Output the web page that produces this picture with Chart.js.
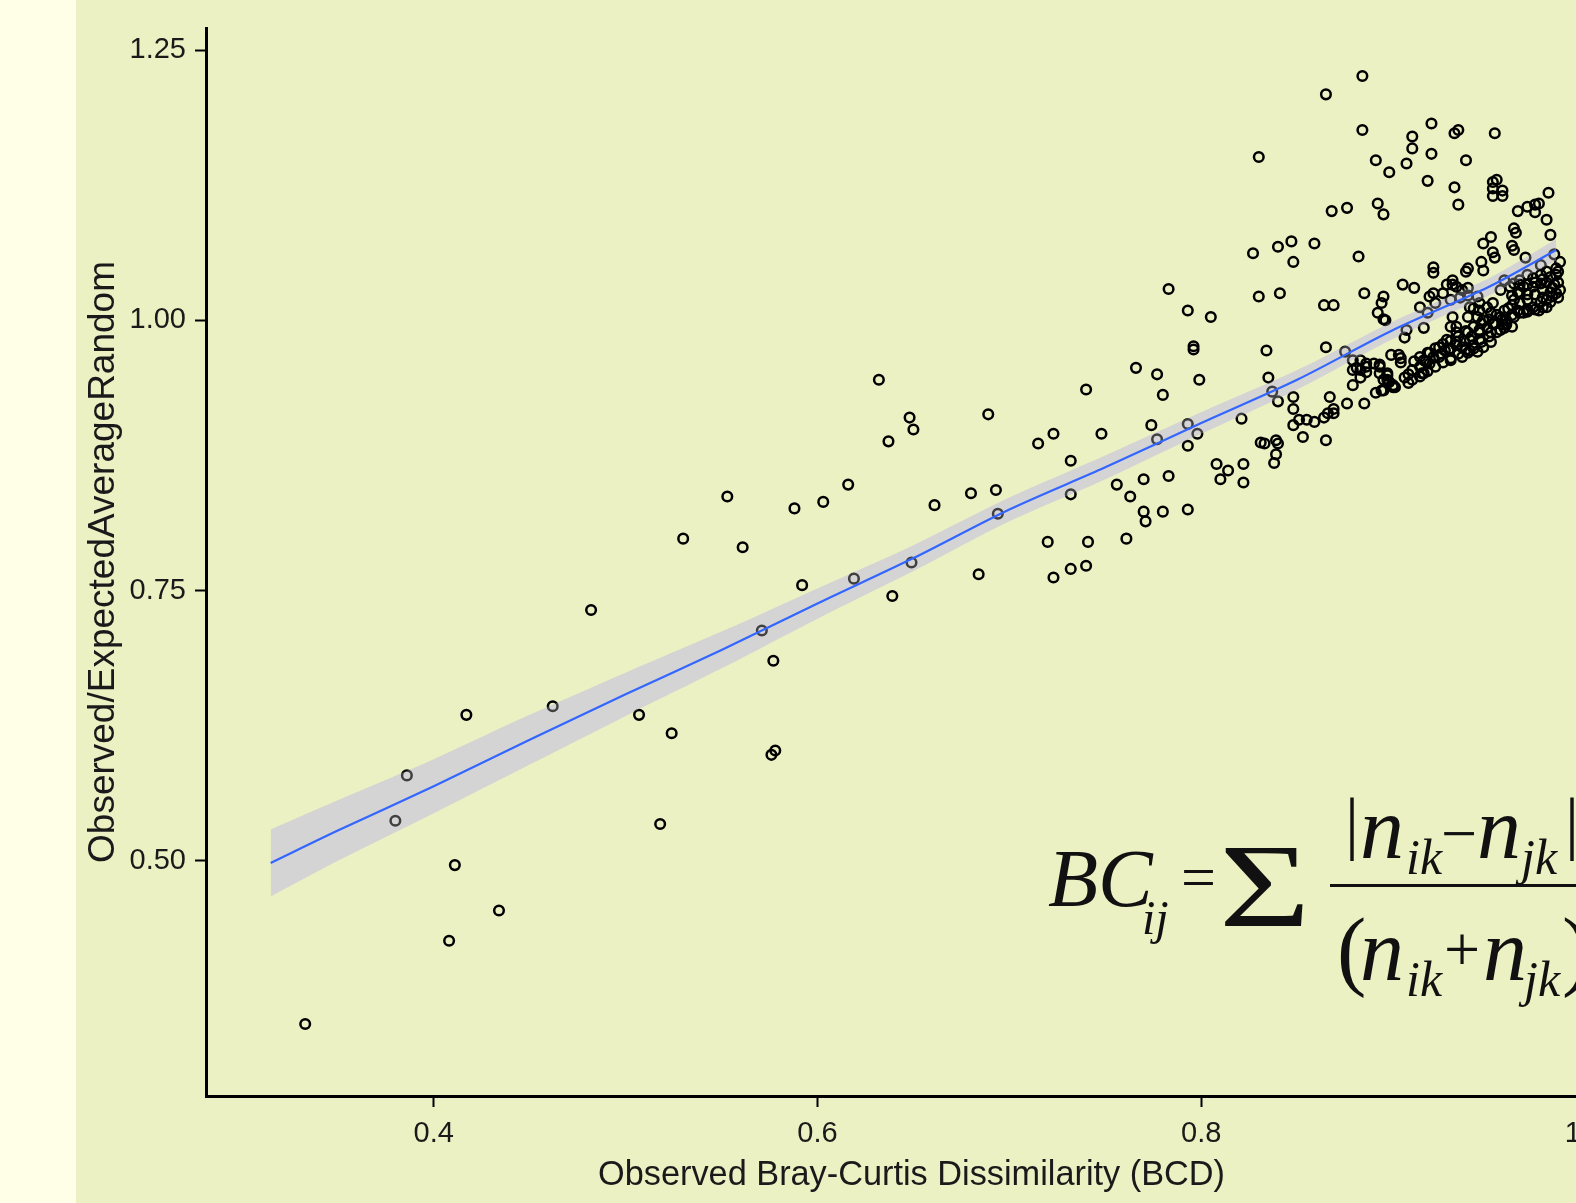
<!DOCTYPE html>
<html>
<head>
<meta charset="utf-8">
<title>Observed/Expected vs Bray-Curtis Dissimilarity</title>
<script src="https://cdn.jsdelivr.net/npm/chart.js@4.4.1/dist/chart.umd.min.js"></script>
<style>
    html, body { margin: 0; padding: 0; width: 1576px; height: 1203px; overflow: hidden; background: #fffee6; }
    #wrap { position: absolute; left: 76px; top: 0; width: 1564px; height: 1203px; background: #ebf1c2; }
    canvas { display: block; }
</style>
</head>
<body>
<div id="wrap"><canvas id="bcdChart" width="1564" height="1203"></canvas></div>
<script>
/* ============================================================================
   1. DATA (x = observed BCD, y = observed/expected)
   ============================================================================ */
const xTicks = [0.4, 0.6, 0.8, 1.0];
const yTicks = [0.50, 0.75, 1.00, 1.25];

// spread-out observations (left half + upper right)
const sparsePts = [
    [0.333,0.349],[0.380,0.537],[0.386,0.579],[0.411,0.496],[0.408,0.426],[0.434,0.454],
    [0.417,0.635],[0.462,0.643],[0.482,0.732],[0.507,0.635],[0.524,0.618],[0.518,0.534],
    [0.530,0.798],[0.553,0.837],[0.561,0.790],[0.571,0.713],[0.577,0.685],[0.576,0.598],
    [0.578,0.602],[0.588,0.826],[0.592,0.755],[0.603,0.832],[0.616,0.848],[0.619,0.761],
    [0.632,0.945],[0.637,0.888],[0.639,0.745],[0.648,0.910],[0.650,0.899],[0.649,0.776],
    [0.661,0.829],[0.680,0.840],[0.684,0.765],[0.689,0.913],[0.693,0.843],[0.694,0.821],
    [0.796,0.976],[0.796,0.973],[0.766,0.956],[0.777,0.950],[0.799,0.945],[0.740,0.936],
    [0.780,0.931],[0.821,0.909],[0.774,0.903],[0.793,0.904],[0.798,0.895],[0.777,0.890],
    [0.793,0.884],[0.723,0.895],[0.748,0.895],[0.715,0.886],[0.732,0.870],[0.808,0.867],
    [0.814,0.861],[0.822,0.867],[0.810,0.853],[0.822,0.850],[0.770,0.853],[0.783,0.856],
    [0.756,0.848],[0.732,0.839],[0.763,0.837],[0.770,0.823],[0.771,0.814],[0.780,0.823],
    [0.793,0.825],[0.720,0.795],[0.741,0.795],[0.761,0.798],[0.732,0.770],[0.740,0.773],
    [0.723,0.762],[0.831,0.887],[0.783,1.029],
    [0.827,1.062],[0.840,1.068],[0.847,1.073],[0.859,1.071],[0.848,1.054],[0.882,1.059],
    [0.830,1.022],[0.841,1.025],[0.793,1.009],[0.805,1.003],[0.864,1.014],[0.869,1.014],
    [0.885,1.025],[0.895,1.022],[0.894,1.016],[0.892,1.007],[0.895,1.001],[0.834,0.972],
    [0.865,0.975],[0.875,0.971],[0.835,0.947],[0.837,0.934],[0.840,0.925],
    [0.884,1.226],[0.865,1.209],[0.884,1.176],[0.830,1.151],[0.920,1.182],[0.910,1.170],
    [0.910,1.159],[0.932,1.173],[0.934,1.176],[0.953,1.173],[0.891,1.148],[0.898,1.137],
    [0.907,1.145],[0.920,1.154],[0.938,1.148],[0.918,1.129],[0.932,1.123],[0.934,1.107],
    [0.952,1.128],[0.954,1.130],[0.952,1.122],[0.957,1.120],[0.952,1.115],[0.957,1.115],
    [0.981,1.118],[0.965,1.101],[0.970,1.105],[0.974,1.107],[0.976,1.108],[0.974,1.100],
    [0.980,1.093],[0.982,1.079],[0.963,1.085],[0.964,1.081],[0.868,1.101],[0.876,1.104],
    [0.892,1.108],[0.895,1.098],[0.947,1.071],[0.951,1.077],[0.962,1.069]
];

// dense group at high dissimilarity
const clusterPts = [
    [0.899,0.968],[0.903,0.968],[0.879,0.963],[0.883,0.963],[0.886,0.960],[0.890,0.960],
    [0.893,0.959],[0.879,0.954],[0.883,0.954],[0.886,0.952],[0.897,0.951],[0.897,0.945],
    [0.900,0.940],[0.879,0.940],[0.894,0.935],[0.891,0.933],[0.885,0.923],[0.876,0.923],
    [0.848,0.929],[0.867,0.929],[0.848,0.918],[0.869,0.918],[0.851,0.908],[0.855,0.908],
    [0.859,0.906],[0.864,0.910],[0.866,0.914],[0.848,0.903],[0.853,0.892],[0.865,0.889],
    [0.833,0.886],[0.839,0.889],[0.840,0.886],[0.839,0.876],[0.838,0.868],
    [0.952,1.063],[0.953,1.058],[0.946,1.054],[0.947,1.046],[0.939,1.048],[0.938,1.045],
    [0.921,1.049],[0.921,1.044],[0.905,1.033],[0.911,1.030],[0.931,1.037],[0.931,1.033],
    [0.928,1.033],[0.969,1.058],[0.985,1.048],[0.985,1.042],[0.984,1.033],[0.985,1.025],
    [0.914,1.012],[0.919,1.022],[0.922,1.016],[0.926,1.025],[0.930,1.019],[0.939,1.030],
    [0.939,1.023],[0.935,1.021],[0.944,1.022],[0.945,1.016],[0.949,1.012],[0.952,1.016],
    [0.942,1.011],
    [0.961,1.031],[0.965,1.026],[0.968,1.031],[0.973,1.031],[0.977,1.034],[0.980,1.035],
    [0.983,1.030],[0.987,1.028],[0.963,1.019],[0.966,1.016],[0.970,1.019],[0.973,1.012],
    [0.977,1.017],[0.980,1.019],[0.983,1.022],[0.960,1.011],[0.965,1.009],[0.970,1.008],
    [0.976,1.009],[0.980,1.012],[0.968,1.007],
    [0.945,1.009],[0.951,1.007],[0.956,1.003],[0.959,1.000],[0.963,1.003],[0.947,1.000],
    [0.952,0.997],[0.957,0.996],[0.962,0.994],[0.940,1.012],[0.944,1.003],[0.939,1.003],
    [0.931,1.003],[0.933,0.994],[0.930,0.994],[0.916,0.993],[0.906,0.984],[0.896,1.000],
    [0.933,0.989],[0.939,0.989],[0.945,0.991],[0.951,0.989],[0.956,0.991],[0.959,0.996],
    [0.928,0.982],[0.933,0.980],[0.940,0.982],[0.945,0.982],[0.951,0.980],[0.924,0.975],
    [0.930,0.974],[0.936,0.975],[0.942,0.974],[0.947,0.975],[0.919,0.970],[0.924,0.966],
    [0.930,0.963],[0.939,0.970],[0.944,0.971],[0.936,0.966],[0.940,0.972],[0.916,0.963],
    [0.914,0.957],[0.916,0.951],[0.919,0.960],[0.927,0.972],
    [0.904,0.965],[0.904,0.961],[0.908,0.942],[0.900,0.938],[0.895,0.935],[0.895,0.945],
    [0.893,0.951],[0.915,0.951],
    [0.963,1.065],[0.918,1.007],[0.921,1.025],[0.933,1.031],[0.936,1.028],[0.881,0.956],
    [0.883,0.947],[0.886,0.957],[0.893,0.957],[0.897,0.949],[0.898,0.943],[0.901,0.938],
    [0.869,0.914],[0.907,0.991],
    [0.984,1.061],[0.987,1.054],[0.977,1.051],[0.980,1.045],[0.977,1.042],[0.973,1.039],
    [0.970,1.042],[0.966,1.037],[0.963,1.034],[0.956,1.028],[0.958,1.037],
    [0.910,0.945],[0.910,0.954],[0.911,0.962],[0.914,0.948],[0.914,0.966],[0.918,0.953],
    [0.917,0.962],[0.918,0.970],[0.922,0.957],[0.921,0.966],[0.922,0.974],[0.926,0.961],
    [0.925,0.969],[0.926,0.978],[0.930,0.965],[0.929,0.973],[0.930,0.981],[0.934,0.969],
    [0.933,0.977],[0.934,0.985],[0.938,0.973],[0.937,0.981],[0.938,0.990],[0.942,0.977],
    [0.941,0.985],[0.942,0.994],[0.946,0.980],[0.945,0.989],[0.946,0.997],[0.950,0.985],
    [0.949,0.993],[0.950,1.001],[0.954,0.989],[0.953,0.997],[0.954,1.005],[0.958,0.993],
    [0.957,1.001],[0.958,1.009],[0.906,0.947],[0.908,0.950],
    [0.962,1.005],[0.962,1.014],[0.962,1.023],[0.966,1.007],[0.966,1.025],[0.966,1.033],
    [0.970,1.010],[0.970,1.024],[0.970,1.033],[0.974,1.010],[0.974,1.024],[0.974,1.035],
    [0.978,1.012],[0.978,1.021],[0.978,1.028],[0.978,1.038],[0.982,1.017],[0.982,1.026],
    [0.982,1.040],[0.986,1.021],[0.986,1.035],[0.986,1.045]
];

// loess fit and its confidence band
const fitX   = [0.315, 0.35, 0.40, 0.45, 0.50, 0.55, 0.60, 0.65, 0.70, 0.75, 0.80, 0.85, 0.90, 0.95, 0.985];
const fitY   = [0.498, 0.528, 0.569, 0.612, 0.654, 0.695, 0.738, 0.780, 0.825, 0.864, 0.905, 0.945, 0.991, 1.031, 1.065];
const bandHi = [0.529, 0.556, 0.594, 0.635, 0.674, 0.712, 0.752, 0.792, 0.836, 0.875, 0.915, 0.954, 0.999, 1.039, 1.075];
const bandLo = [0.467, 0.500, 0.544, 0.589, 0.634, 0.678, 0.724, 0.768, 0.814, 0.853, 0.895, 0.936, 0.983, 1.023, 1.055];

/* ============================================================================
   2. THEME
   ============================================================================ */
const sans = '"Liberation Sans", Arial, sans-serif';
const serif = '"Liberation Serif", "Times New Roman", serif';
const ink = "#1a1a1a";

const toXY = (xs, ys) => xs.map((x, i) => ({ x, y: ys[i] }));
const toPts = arr => arr.map(p => ({ x: p[0], y: p[1] }));

/* ============================================================================
   3. FORMULA ANNOTATION (Bray-Curtis definition)
   ============================================================================ */
const formulaPlugin = {
    id: "formula",
    afterDraw(chart) {
        const { ctx, chartArea } = chart;
        const ox = chartArea.left + 842;
        const oy = chartArea.top + 878;
        // [text, size, style, dx, dy, horizontal stretch]
        const parts = [
            ["BC", 82, "italic", 0, 0, 1],
            ["ij", 48, "italic", 94, 28, 1],
            ["=", 62, "normal", 133, -8, 1],
            ["\u03A3", 118, "normal", 171, 20, 1.33],
            ["|", 70, "normal", 297, -60, 1],
            ["n", 88, "italic", 312, -48, 1],
            ["ik", 50, "italic", 358, -32, 1],
            ["\u2212", 64, "normal", 393, -51, 1],
            ["n", 88, "italic", 429, -48, 1],
            ["jk", 50, "italic", 473, -32, 1],
            ["|", 70, "normal", 517, -60, 1],
            ["(", 88, "normal", 289, 73, 1],
            ["n", 88, "italic", 312, 74, 1],
            ["ik", 50, "italic", 358, 90, 1],
            ["+", 64, "normal", 396, 65, 1],
            ["n", 88, "italic", 435, 74, 1],
            ["jk", 50, "italic", 476, 90, 1],
            [")", 88, "normal", 514, 73, 1]
        ];
        ctx.save();
        ctx.fillStyle = "#111";
        ctx.textBaseline = "alphabetic";
        ctx.textAlign = "left";
        parts.forEach(([t, size, style, dx, dy, sx]) => {
            ctx.save();
            ctx.font = `${style} ${size}px ${serif}`;
            ctx.translate(ox + dx, oy + dy);
            ctx.scale(sx, 1);
            ctx.fillText(t, 0, 0);
            ctx.restore();
        });
        ctx.fillRect(ox + 282, oy - 22, 500, 3);
        ctx.restore();
    }
};

/* ============================================================================
   4. CHART
   ============================================================================ */
const fitLine = toXY(fitX, fitY);
const hiLine = toXY(fitX, bandHi);
const loLine = toXY(fitX, bandLo);

new Chart(document.getElementById("bcdChart"), {
    type: "scatter",
    data: {
        datasets: [
            { data: loLine, showLine: true, borderWidth: 0, pointRadius: 0, tension: 0.3, fill: false, order: 6 },
            { data: hiLine, showLine: true, borderWidth: 0, pointRadius: 0, tension: 0.3,
              fill: "-1", backgroundColor: "#d4d4d4", order: 5 },
            { data: toPts(sparsePts.concat(clusterPts)), pointStyle: "circle", pointRadius: 4.8,
              pointBorderWidth: 2.5, borderColor: "#000", backgroundColor: "rgba(0,0,0,0)", order: 4 },
            { data: loLine, showLine: true, borderWidth: 0, pointRadius: 0, tension: 0.3, fill: false, order: 3 },
            { data: hiLine, showLine: true, borderWidth: 0, pointRadius: 0, tension: 0.3,
              fill: "-1", backgroundColor: "rgba(212,212,212,0.3)", order: 2 },
            { data: fitLine, showLine: true, borderColor: "#3366ff", borderWidth: 2.2, pointRadius: 0,
              tension: 0.3, fill: false, order: 1 }
        ]
    },
    options: {
        responsive: false,
        devicePixelRatio: 1,
        animation: false,
        events: [],
        layout: { padding: { top: 28, right: 23, left: 0, bottom: 0 } },
        plugins: { legend: { display: false }, tooltip: { enabled: false } },
        scales: {
            x: {
                type: "linear",
                min: 0.2813,
                max: 1.0167,
                afterFit: s => { s.height = 107; },
                afterBuildTicks: s => { s.ticks = xTicks.map(v => ({ value: v })); },
                ticks: { callback: v => v.toFixed(1), color: ink, padding: 10, maxRotation: 0,
                         font: { family: sans, size: 29 } },
                grid: { drawOnChartArea: false, drawTicks: true, tickLength: 11, tickWidth: 2, tickColor: "#000" },
                border: { display: true, color: "#000", width: 3 },
                title: { display: true, text: "Observed Bray-Curtis Dissimilarity (BCD)", color: ink,
                         font: { family: sans, size: 34.3 }, padding: { top: 0, bottom: 7 } }
            },
            y: {
                type: "linear",
                min: 0.2824,
                max: 1.2704,
                afterFit: s => { s.width = 130; },
                afterBuildTicks: s => { s.ticks = yTicks.map(v => ({ value: v })); },
                ticks: { callback: v => v.toFixed(2), color: ink, padding: 9,
                         font: { family: sans, size: 29 } },
                grid: { drawOnChartArea: false, drawTicks: true, tickLength: 11, tickWidth: 2, tickColor: "#000" },
                border: { display: true, color: "#000", width: 3 },
                title: { display: true, text: "Observed/ExpectedAverageRandom", color: ink,
                         font: { family: sans, size: 37 }, padding: { top: 6, bottom: 0 } }
            }
        }
    },
    plugins: [formulaPlugin]
});
</script>
</body>
</html>
